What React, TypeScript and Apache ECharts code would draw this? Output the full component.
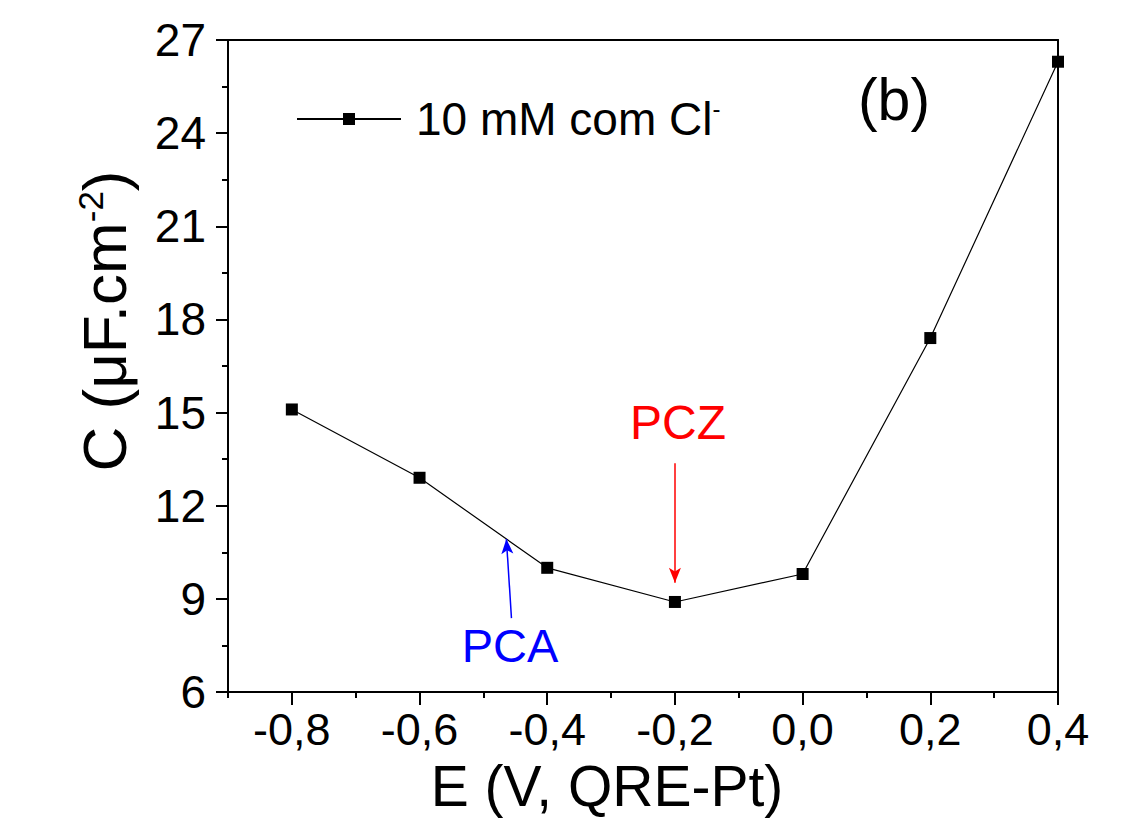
import React, { useEffect, useRef } from "react";
import * as echarts from "echarts";

const E_VALUES = [-0.8, -0.6, -0.4, -0.2, 0.0, 0.2, 0.4];
const C_VALUES = [15.1, 12.9, 10.0, 8.9, 9.8, 17.4, 26.3];
const X_MAJOR = [-0.8, -0.6, -0.4, -0.2, 0.0, 0.2, 0.4];
const X_MINOR = [-0.9, -0.7, -0.5, -0.3, -0.1, 0.1, 0.3];
const PCZ_ARROW = [[-0.2, 13.37], [-0.2, 9.52]];
const PCA_ARROW = [[-0.456, 8.38], [-0.464, 10.93]];

const FONT = "'Liberation Sans', Arial, sans-serif";

export default function App() {
  const ref = useRef<HTMLDivElement>(null);
  useEffect(() => {
    document.body.style.margin = "0";
    const chart = echarts.init(ref.current!, null, { renderer: "svg" });
    const axisLine = { show: true, onZero: false, lineStyle: { color: "#000", width: 2 } };
    const fmt = (v: number) => (Math.abs(v) < 1e-9 ? 0 : v).toFixed(1).replace(".", ",");
    chart.setOption({
      animation: false,
      backgroundColor: "#fff",
      textStyle: { fontFamily: FONT },
      grid: { left: 228, right: 77, top: 40, bottom: 132 },
      legend: {
        left: 291,
        top: 91,
        itemWidth: 104,
        itemHeight: 15,
        itemGap: 0,
        textStyle: {
          fontFamily: FONT,
          color: "#000",
          rich: {
            a: { fontSize: 46, fontFamily: FONT, color: "#000", padding: [0, 0, 0, 10] },
            s: { fontSize: 24, fontFamily: FONT, color: "#000", verticalAlign: "top" },
          },
        },
        formatter: () => "{a|10 mM com Cl}{s|-}",
        data: ["10 mM com Cl-"],
      },
      xAxis: [
        {
          type: "value",
          position: "bottom",
          min: -0.9,
          max: 0.4,
          axisLine,
          splitLine: { show: false },
          axisTick: { show: true, customValues: X_MAJOR, length: 13, lineStyle: { color: "#000", width: 2 } },
          axisLabel: {
            customValues: X_MAJOR,
            formatter: fmt,
            fontSize: 45,
            lineHeight: 40,
            color: "#000",
            fontFamily: FONT,
            margin: 17,
          },
        },
        {
          type: "value",
          position: "bottom",
          min: -0.9,
          max: 0.4,
          axisLine: { show: false, onZero: false },
          splitLine: { show: false },
          axisTick: { show: true, customValues: X_MINOR, length: 6, lineStyle: { color: "#000", width: 2 } },
          axisLabel: { show: false },
        },
        {
          type: "value",
          position: "top",
          min: -0.9,
          max: 0.4,
          axisLine,
          splitLine: { show: false },
          axisTick: { show: false },
          axisLabel: { show: false },
        },
      ],
      yAxis: [
        {
          type: "value",
          position: "left",
          min: 6,
          max: 27,
          interval: 3,
          axisLine,
          splitLine: { show: false },
          axisTick: { show: true, length: 12, lineStyle: { color: "#000", width: 2 } },
          minorTick: { show: true, splitNumber: 2, length: 6, lineStyle: { color: "#000", width: 2 } },
          axisLabel: { fontSize: 46, color: "#000", fontFamily: FONT, margin: 22 },
        },
        {
          type: "value",
          position: "right",
          min: 6,
          max: 27,
          interval: 3,
          axisLine,
          splitLine: { show: false },
          axisTick: { show: false },
          axisLabel: { show: false },
        },
      ],
      series: [
        {
          name: "10 mM com Cl-",
          type: "line",
          xAxisIndex: 0,
          yAxisIndex: 0,
          data: E_VALUES.map((e, i) => [e, C_VALUES[i]]),
          symbol: "rect",
          symbolSize: 12,
          itemStyle: { color: "#000" },
          lineStyle: { color: "#000", width: 1.2 },
          markLine: {
            silent: true,
            symbol: ["none", "arrow"],
            symbolSize: [9, 15],
            label: { show: false },
            data: [
              [
                { coord: PCZ_ARROW[0], lineStyle: { color: "#ff0000", width: 1.5, type: "solid" }, itemStyle: { color: "#ff0000" } },
                { coord: PCZ_ARROW[1] },
              ],
              [
                { coord: PCA_ARROW[0], lineStyle: { color: "#0000ff", width: 1.5, type: "solid" }, itemStyle: { color: "#0000ff" } },
                { coord: PCA_ARROW[1] },
              ],
            ],
          },
        },
      ],
      graphic: [
        {
          type: "text",
          x: 607,
          y: 786,
          style: {
            text: "E (V, QRE-Pt)",
            fontSize: 57,
            lineHeight: 38,
            fontFamily: FONT,
            fill: "#000",
            align: "center",
            verticalAlign: "middle",
          },
        },
        {
          type: "text",
          x: 104,
          y: 321,
          rotation: Math.PI / 2,
          style: {
            text: "{a|C (μF.cm}{s|-2}{a|)}",
            fontFamily: FONT,
            fill: "#000",
            align: "center",
            verticalAlign: "middle",
            rich: {
              a: { fontSize: 62, fontFamily: FONT, fill: "#000" },
              s: { fontSize: 35, fontFamily: FONT, fill: "#000", verticalAlign: "top" },
            },
          },
        },
        {
          type: "text",
          x: 894,
          y: 100,
          style: { text: "(b)", fontSize: 59, fontFamily: FONT, fill: "#000", align: "center", verticalAlign: "middle" },
        },
        {
          type: "text",
          x: 678,
          y: 422,
          style: { text: "PCZ", fontSize: 48, fontFamily: FONT, fill: "#ff0000", align: "center", verticalAlign: "middle" },
        },
        {
          type: "text",
          x: 510,
          y: 645,
          style: { text: "PCA", fontSize: 47, fontFamily: FONT, fill: "#0000ff", align: "center", verticalAlign: "middle" },
        },
      ],
    });
    return () => chart.dispose();
  }, []);
  return <div ref={ref} style={{ width: 1135, height: 824 }} />;
}
